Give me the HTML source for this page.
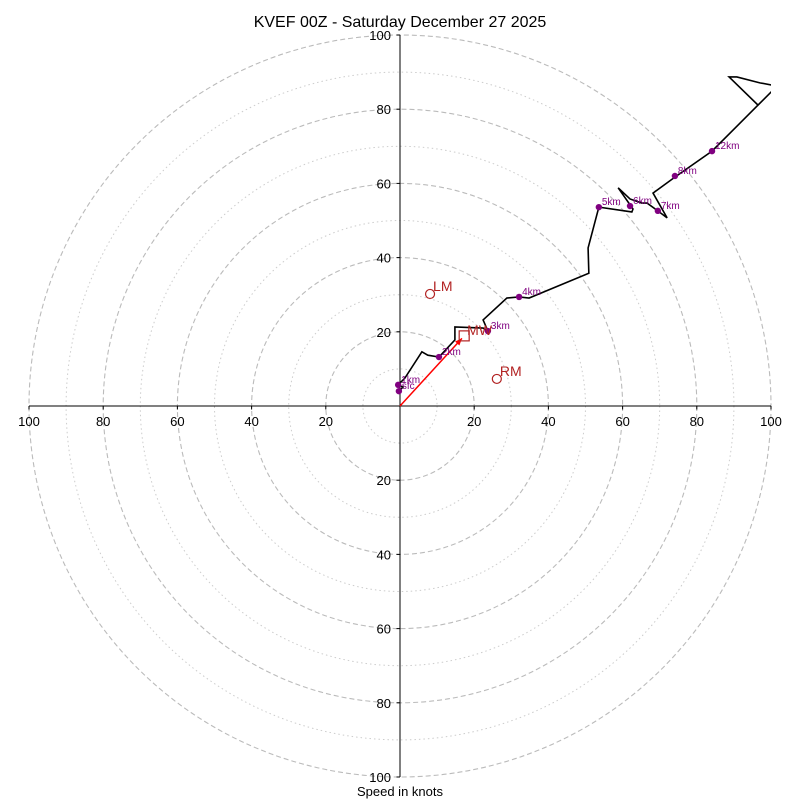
<!DOCTYPE html>
<html><head><meta charset="utf-8"><style>
html,body{margin:0;padding:0;background:#fff}
svg{display:block;font-family:"Liberation Sans","DejaVu Sans",sans-serif}
</style></head><body>
<svg id="chart" width="800" height="800" viewBox="0 0 800 800">
<defs><clipPath id="clip"><rect x="28" y="35" width="743" height="742"/></clipPath></defs>
<text x="400" y="27" text-anchor="middle" font-size="16">KVEF 00Z - Saturday December 27 2025</text>
<g id="grid"></g>
<g id="axes"></g>
<g id="plot" clip-path="url(#clip)"></g>
<g id="labels"></g>
<text x="400" y="796" text-anchor="middle" font-size="13">Speed in knots</text>
</svg>
<script>
// data (knots)
const pathU = [-0.3,0.8,-0.5,1.3,5.9,7.5,10.5,14.8,14.8,22.4,22.4,23.7,22.4,28.8,32.1,34.8,50.9,50.7,53.6,62.5,62.8,58.8,62.0,65.2,66.6,69.5,72.0,68.2,74.1,84.1,96.5,104,106,100.3,97.0,90.8,88.7,96.5,104];
const pathV = [4.0,5.1,5.7,7.5,14.6,13.7,13.2,17.8,21.3,21.0,21.0,20.2,23.2,29.1,29.4,29.1,35.8,42.6,53.6,52.3,53.1,58.8,55.8,54.7,54.7,52.6,50.7,57.4,61.7,68.7,81.1,88.6,87,86.5,87.1,88.7,88.7,81.1,88.6];
const levelNames = ["sfc","1km","2km","3km","4km","5km","6km","7km","8km","12km"];
const levelU = [-0.3,-0.5,10.5,23.7,32.1,53.6,62.0,69.5,74.1,84.1];
const levelV = [4.0,5.7,13.2,20.2,29.4,53.6,53.9,52.6,62.0,68.7];
const motionNames = ["LM","RM"];
const motionU = [8.1,26.1];
const motionV = [30.2,7.3];
const meanWind = [17.3,18.9];
const ringValues = [10,20,30,40,50,60,70,80,90,100];
const tickLabels = [20,40,60,80,100];

const NS="http://www.w3.org/2000/svg";
const CX=400, CY=406, S=3.71;
const sx=u=>CX+u*S, sy=v=>CY-v*S;
function mk(tag,attrs,parent){const e=document.createElementNS(NS,tag);for(const k in attrs)e.setAttribute(k,attrs[k]);parent.appendChild(e);return e;}
const grid=document.getElementById('grid'),axes=document.getElementById('axes'),plot=document.getElementById('plot'),labels=document.getElementById('labels');

ringValues.forEach(r=>{
  const major=r%20===0;
  const c=mk('circle',{cx:CX,cy:CY,r:r*S,fill:'none',stroke:major?'#bbb':'#ccc','stroke-width':major?1.1:1,'stroke-dasharray':major?'5,3':'1.5,3'},grid);
  
  
});
let l=mk('line',{x1:sx(-100),y1:CY,x2:sx(100),y2:CY,stroke:'#000','stroke-width':1},axes);


l=mk('line',{x1:CX,y1:sy(100),x2:CX,y2:sy(-100),stroke:'#000','stroke-width':1},axes);


tickLabels.forEach(t=>{
  [-1,1].forEach(sg=>{
    const x=sx(sg*t);
    mk('line',{x1:x,y1:CY,x2:x,y2:CY+3.5,stroke:'#000'},axes);
    const tx=mk('text',{x:x,y:CY+20,'text-anchor':'middle','font-size':13},axes);
    tx.textContent=t;
    
    
    const y=sy(sg*t);
    mk('line',{x1:CX-3.5,y1:y,x2:CX,y2:y,stroke:'#000'},axes);
    const ty=mk('text',{x:CX-9,y:y+5,'text-anchor':'end','font-size':13},axes);
    ty.textContent=t;
    
    
  });
});
// hodograph line
const pl=mk('polyline',{points:pathU.map((u,i)=>sx(u)+','+sy(pathV[i])).join(' '),fill:'none',stroke:'#000','stroke-width':1.6,'stroke-linejoin':'miter'},plot);


// mean wind arrow
const ax=sx(meanWind[0]*0.965), ay=sy(meanWind[1]*0.965);
const ar=mk('line',{x1:CX,y1:CY,x2:ax,y2:ay,stroke:'red','stroke-width':1.5},plot);


const ang=Math.atan2(ay-CY,ax-CX);
const hp=[[ax,ay],[ax-7*Math.cos(ang)+3*Math.sin(ang),ay-7*Math.sin(ang)-3*Math.cos(ang)],[ax-7*Math.cos(ang)-3*Math.sin(ang),ay-7*Math.sin(ang)+3*Math.cos(ang)]];
mk('polygon',{points:hp.map(p=>p.join(',')).join(' '),fill:'red'},plot);
// MW square
const sq=mk('rect',{x:sx(meanWind[0])-5,y:sy(meanWind[1])-5,width:10,height:10,fill:'none',stroke:'#b22222','stroke-width':1.2},plot);


let mt=mk('text',{x:sx(meanWind[0])+3,y:sy(meanWind[1])-1,'font-size':14,fill:'#b22222'},labels);
mt.textContent='MW';


motionNames.forEach((n,i)=>{
  const c=mk('circle',{cx:sx(motionU[i]),cy:sy(motionV[i]),r:4.5,fill:'none',stroke:'#b22222','stroke-width':1.2},plot);
  
  
  const t=mk('text',{x:sx(motionU[i])+3,y:sy(motionV[i])-3,'font-size':14,fill:'#b22222'},labels);
  t.textContent=n;
  
  
});
levelNames.forEach((n,i)=>{
  const c=mk('circle',{cx:sx(levelU[i]),cy:sy(levelV[i]),r:3.2,fill:'#800080'},plot);
  
  
  const t=mk('text',{x:sx(levelU[i])+3,y:sy(levelV[i])-2,'font-size':10,fill:'#800080'},labels);
  t.textContent=n;
  
  
});
</script>
</body></html>
